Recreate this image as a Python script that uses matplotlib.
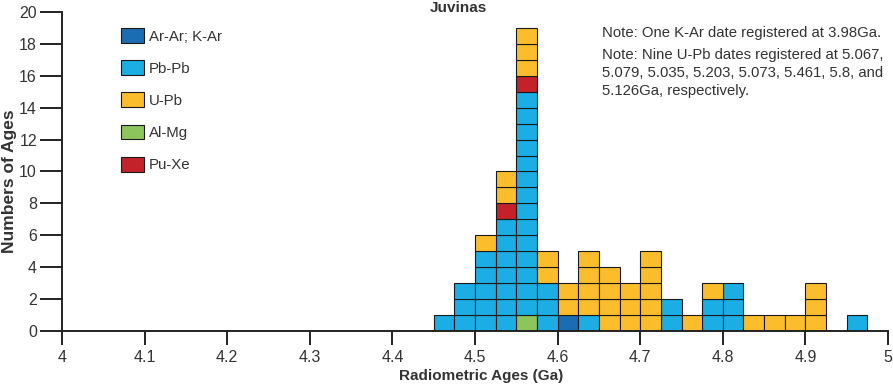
import numpy as np
import matplotlib
matplotlib.use("Agg")
import matplotlib.pyplot as plt
from matplotlib.patches import Patch

# bin left edges (Ga), bin width 0.025
bins = [4.45, 4.475, 4.5, 4.525, 4.55, 4.575, 4.6, 4.625, 4.65, 4.675, 4.7,
        4.725, 4.75, 4.775, 4.8, 4.825, 4.85, 4.875, 4.9, 4.925, 4.95]
bin_width = 0.025

# counts per method in each bin (stacked bottom to top in this order)
ar_ar = [0, 0, 0, 0, 0, 0, 1, 0, 0, 0, 0, 0, 0, 0, 0, 0, 0, 0, 0, 0, 0]
al_mg = [0, 0, 0, 0, 1, 0, 0, 0, 0, 0, 0, 0, 0, 0, 0, 0, 0, 0, 0, 0, 0]
pb_pb = [1, 3, 5, 7, 14, 3, 0, 1, 0, 0, 0, 2, 0, 2, 3, 0, 0, 0, 0, 0, 1]
pu_xe = [0, 0, 0, 1, 1, 0, 0, 0, 0, 0, 0, 0, 0, 0, 0, 0, 0, 0, 0, 0, 0]
u_pb = [0, 0, 1, 2, 3, 2, 2, 4, 4, 3, 5, 0, 1, 1, 0, 1, 1, 1, 3, 0, 0]

series = [
    ("Ar-Ar; K-Ar", ar_ar, "#1b6db3"),
    ("Al-Mg", al_mg, "#8cc55c"),
    ("Pb-Pb", pb_pb, "#1aaee5"),
    ("Pu-Xe", pu_xe, "#c3222b"),
    ("U-Pb", u_pb, "#fbbd2c"),
]
legend_order = ["Ar-Ar; K-Ar", "Pb-Pb", "U-Pb", "Al-Mg", "Pu-Xe"]

plain = ["Liberation Sans", "DejaVu Sans"]
txt = "#333333"

fig = plt.figure(figsize=(8.93, 3.85), dpi=100)
ax = fig.add_axes([62 / 893, 1 - 331 / 385, 826 / 893, 319 / 385])

bottoms = np.zeros(len(bins))
for name, counts, col in series:
    for i, n in enumerate(counts):
        for k in range(n):
            ax.bar(bins[i], 1, width=bin_width, bottom=bottoms[i] + k,
                   align="edge", color=col, edgecolor="#1a1a1a",
                   linewidth=0.8)
    bottoms += np.array(counts)

ax.set_xlim(4, 5)
ax.set_ylim(0, 20)
ax.set_xticks(np.arange(4, 5.01, 0.1))
ax.set_xticklabels(["4", "4.1", "4.2", "4.3", "4.4", "4.5", "4.6", "4.7",
                    "4.8", "4.9", "5"])
ax.set_yticks(range(0, 21, 2))

for s in ["top", "right"]:
    ax.spines[s].set_visible(False)
for s in ["left", "bottom"]:
    ax.spines[s].set_linewidth(1.4)
    ax.spines[s].set_color("#222222")

ax.tick_params(axis="y", length=16, width=1.4, color="#222222", pad=2,
               labelsize=11.5, labelcolor=txt)
ax.tick_params(axis="x", length=10, width=1.4, color="#222222", pad=4,
               labelsize=11.5, labelcolor=txt)
for lab in ax.get_xticklabels() + ax.get_yticklabels():
    lab.set_family(plain)

ax.set_xlabel("Radiometric Ages (Ga)", fontsize=11, fontweight="bold",
              family=plain, color=txt)
ax.xaxis.set_label_coords(0.507, -0.118)
ax.set_ylabel("Numbers of Ages", fontsize=12.5, fontweight="bold",
              family=plain, color=txt)
ax.yaxis.set_label_coords(-0.055, 0.47)

fig.text(458 / 893, 1 - 8 / 385, "Juvinas", ha="center", va="center",
         fontsize=11, fontweight="bold", family=plain, color=txt)

colors_by_name = {name: col for name, _, col in series}
handles = [Patch(facecolor=colors_by_name[n], edgecolor="#1a1a1a",
                 linewidth=0.8, label=n) for n in legend_order]
leg = ax.legend(handles=handles, loc="upper left",
                bbox_to_anchor=(121 / 893, 1 - 28 / 385),
                bbox_transform=fig.transFigure, frameon=False,
                borderpad=0, borderaxespad=0, handlelength=1.5,
                handleheight=1.15, handletextpad=0.35, labelspacing=1.11,
                prop={"family": plain, "size": 10.8})
for t in leg.get_texts():
    t.set_color(txt)

fig.text(602 / 893, 1 - 33 / 385, "Note: One K-Ar date registered at 3.98Ga.",
         ha="left", va="center", fontsize=10.7, family=plain, color=txt)
fig.text(602 / 893, 1 - 73 / 385,
         "Note: Nine U-Pb dates registered at 5.067,\n"
         "5.079, 5.035, 5.203, 5.073, 5.461, 5.8, and\n"
         "5.126Ga, respectively.",
         ha="left", va="center", fontsize=10.7, family=plain, color=txt,
         linespacing=1.38)

fig.savefig("out.png", dpi=100)
